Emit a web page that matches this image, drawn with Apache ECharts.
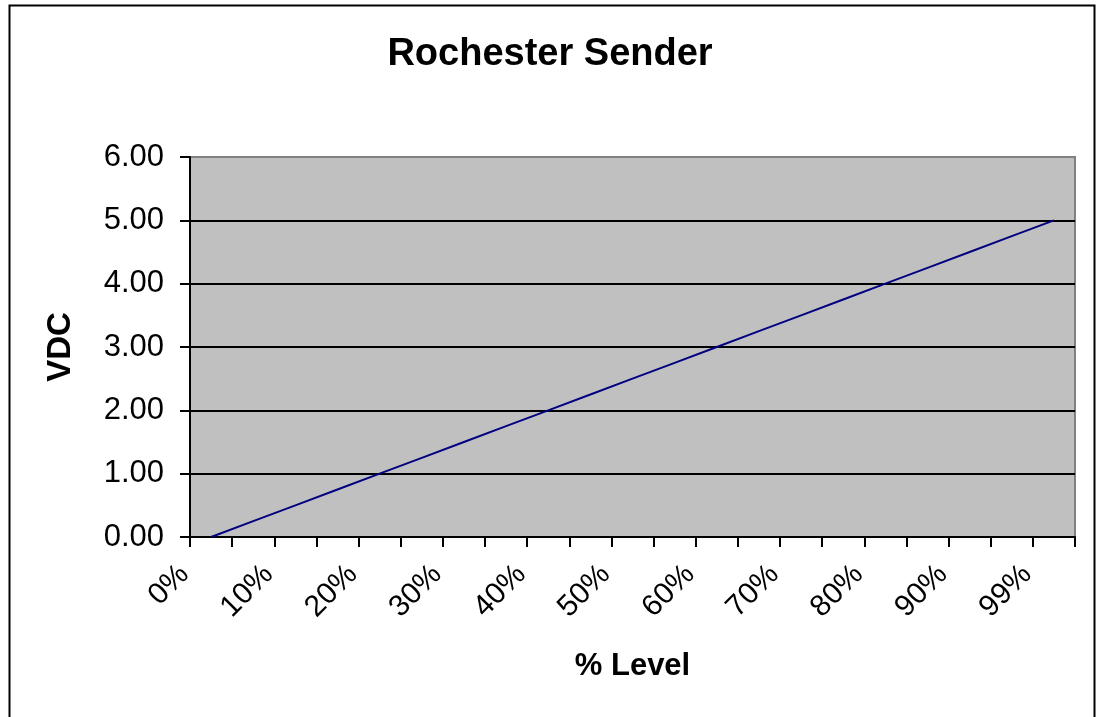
<!DOCTYPE html>
<html>
<head>
<meta charset="utf-8">
<script src="https://cdn.jsdelivr.net/npm/echarts@6/dist/echarts.min.js"></script>
<style>
html,body{margin:0;padding:0;background:#fff;}
#chart{width:1100px;height:717px;}
</style>
</head>
<body>
<div id="chart"></div>
<script>
const titleText = 'Rochester Sender';
const xAxisName = '% Level';
const yAxisName = 'VDC';
const categories = ['0%','5%','10%','15%','20%','25%','30%','35%','40%','45%','50%','55%','60%','65%','70%','75%','80%','85%','90%','95%','99%'];
const vdcValues = [0.00,0.25,0.50,0.75,1.00,1.25,1.50,1.75,2.00,2.25,2.50,2.75,3.00,3.25,3.50,3.75,4.00,4.25,4.50,4.75,5.00];
const yMin = 0, yMax = 6, yStep = 1;

const FONT = 'Liberation Sans, Arial, sans-serif';
const chart = echarts.init(document.getElementById('chart'), null, {renderer:'canvas'});
chart.setOption({
  backgroundColor:'#ffffff',
  animation:false,
  title:{
    text:titleText, left:'center', top:31,
    textStyle:{fontFamily:FONT, fontSize:38, fontWeight:'bold', color:'#000'}
  },
  graphic:[{
    type:'rect', left:7, top:3, z:0,
    shape:{x:0, y:0, width:1085, height:740},
    style:{fill:null, stroke:'#000', lineWidth:2}
  }],
  grid:{
    left:190, right:25, top:157, bottom:180,
    show:true, backgroundColor:'#C0C0C0', borderColor:'#808080', borderWidth:2
  },
  xAxis:{
    type:'category', data:categories, boundaryGap:true,
    name:xAxisName, nameLocation:'middle', nameGap:114,
    nameTextStyle:{fontFamily:FONT, fontSize:31, fontWeight:'bold', color:'#000'},
    axisLine:{show:true, lineStyle:{color:'#000', width:2}},
    axisTick:{show:true, interval:0, length:10, lineStyle:{color:'#000', width:2}},
    axisLabel:{interval:1, rotate:45, margin:6, padding:[0,38,0,0],
      fontFamily:FONT, fontSize:30, color:'#000'},
    splitLine:{show:false}
  },
  yAxis:{
    type:'value', min:yMin, max:yMax, interval:yStep,
    name:yAxisName, nameLocation:'middle', nameGap:113, nameRotate:90,
    nameTextStyle:{fontFamily:FONT, fontSize:33, fontWeight:'bold', color:'#000'},
    axisLine:{show:true, lineStyle:{color:'#000', width:2}},
    axisTick:{show:true, length:10, lineStyle:{color:'#000', width:2}},
    axisLabel:{margin:26, fontFamily:FONT, fontSize:31, color:'#000',
      formatter:function(v){return v.toFixed(2);}},
    splitLine:{show:true, lineStyle:{color:['#000','#000','#000','#000','#000','#000','#808080'], width:2}}
  },
  series:[{
    type:'line', data:vdcValues, showSymbol:false, symbol:'none',
    lineStyle:{color:'#000080', width:2}, itemStyle:{color:'#000080'}
  }]
});
</script>
</body>
</html>
